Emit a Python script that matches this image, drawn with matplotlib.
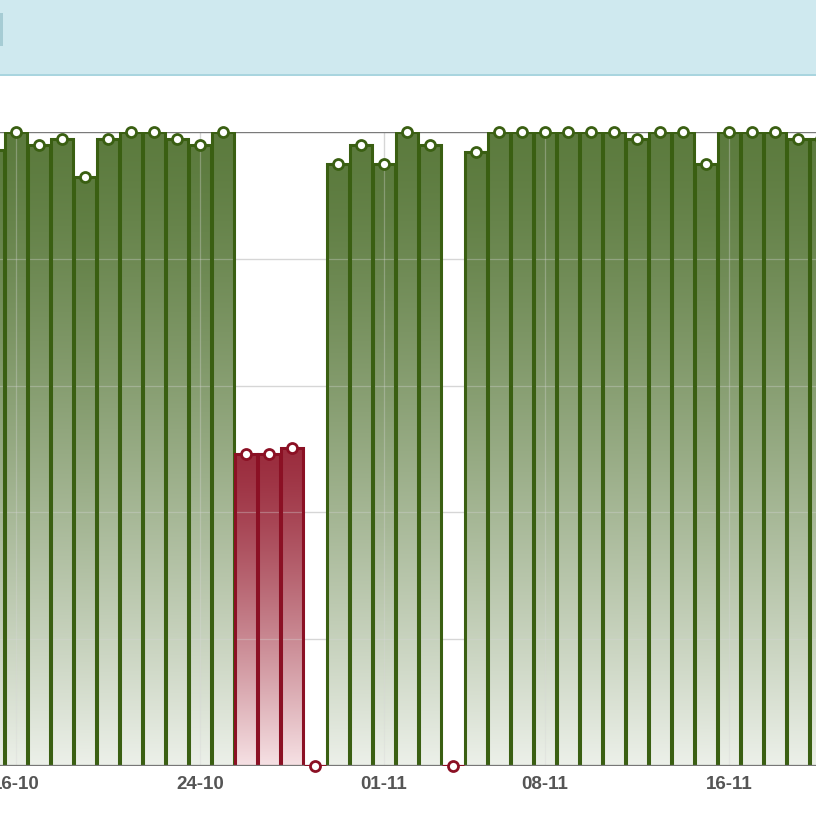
import matplotlib.pyplot as plt
import matplotlib.patches as mpatches
import numpy as np

# daily values, 15-10 .. 20-11
dates = ["15-10", "16-10", "17-10", "18-10", "19-10", "20-10", "21-10", "22-10",
         "23-10", "24-10", "25-10", "26-10", "27-10", "28-10", "29-10", "30-10",
         "31-10", "01-11", "02-11", "03-11", "04-11", "05-11", "06-11", "07-11",
         "08-11", "09-11", "10-11", "11-11", "12-11", "13-11", "14-11", "15-11",
         "16-11", "17-11", "18-11", "19-11", "20-11"]
values = [97.2, 100, 97.9, 98.9, 92.9, 98.9, 100, 100,
          98.9, 97.9, 100, 49.2, 49.2, 50.2, 0, 95.0,
          97.9, 95.0, 100, 97.9, 0, 96.8, 100, 100,
          100, 100, 100, 100, 98.9, 100, 100, 95.0,
          100, 100, 100, 98.9, 98.9]
tick_dates = ["16-10", "24-10", "01-11", "08-11", "16-11"]
threshold = 90

green_top, green_bot, green_edge = "#5c7b3e", "#ecf0e9", "#3a5f12"
red_top, red_bot, red_edge = "#9b2d3e", "#f6e1e4", "#8b1024"


def hex2rgb(h):
    return np.array([int(h[i:i + 2], 16) / 255 for i in (1, 3, 5)])


def gradient(top, bot):
    f = np.linspace(0, 1, 200)[:, None]  # 0 bottom -> 1 top
    d = (1 - f) ** 1.3
    c = hex2rgb(top) + (hex2rgb(bot) - hex2rgb(top)) * d
    return c[:, None, :]


fig = plt.figure(figsize=(8.16, 8.32), dpi=100)
H = 832.0

# header band
fig.patches.append(mpatches.Rectangle((0, 1 - 75 / H), 1, 75 / H, transform=fig.transFigure,
                                      facecolor="#cfe9ef", edgecolor="none", zorder=0))
fig.patches.append(mpatches.Rectangle((0, 1 - 76 / H), 1, 2 / H, transform=fig.transFigure,
                                      facecolor="#a9d5df", edgecolor="none", zorder=1))
fig.patches.append(mpatches.Rectangle((0, 1 - 46 / H), 3 / 816, 33 / H, transform=fig.transFigure,
                                      facecolor="#a6ccd4", edgecolor="none", zorder=1))

ax = fig.add_axes([0, 1 - 766 / H, 1, (766 - 132) / H])
ax.set_facecolor("white")

x = np.arange(len(values)) - 1
w = 0.95

for xi, v in zip(x, values):
    bad = v < threshold
    top, bot, edge = (red_top, red_bot, red_edge) if bad else (green_top, green_bot, green_edge)
    if v > 0:
        ax.imshow(gradient(top, bot), extent=[xi - w / 2, xi + w / 2, 0, v], origin="lower",
                  aspect="auto", interpolation="bilinear", zorder=2)
    ax.bar(xi, v, width=w, fill=False, edgecolor=edge, linewidth=2.2,
           zorder=4 if v > 0 else 5.5)
    ax.plot(xi, v, "o", ms=7.2, mfc="white", mec=edge, mew=2.0, clip_on=False, zorder=6)

# grid: full behind, faint on top of the bars
tick_pos = [x[dates.index(d)] for d in tick_dates]
for yv in [20, 40, 60, 80]:
    ax.axhline(yv, color="#d6d6d6", lw=0.9, zorder=1)
    ax.axhline(yv, color="#d6d6d6", lw=0.9, alpha=0.35, zorder=3)
for tp in tick_pos:
    ax.axvline(tp, color="#d6d6d6", lw=0.9, zorder=1)
    ax.axvline(tp, color="#d6d6d6", lw=0.9, alpha=0.35, zorder=3)
ax.axhline(100, color="#7a7a7a", lw=1.0, zorder=3.5)
ax.axhline(0, color="#777777", lw=1.6, zorder=5)

ax.set_xlim(-16 / 23, 800 / 23)
ax.set_ylim(0, 100)
ax.set_yticks([])
ax.set_xticks(tick_pos)
ax.set_xticklabels(tick_dates, fontsize=13.5, fontweight="bold", color="#555555",
                   fontfamily="Liberation Sans")
ax.tick_params(axis="x", length=0, pad=7)
for s in ax.spines.values():
    s.set_visible(False)

fig.savefig("out.png", dpi=100)
